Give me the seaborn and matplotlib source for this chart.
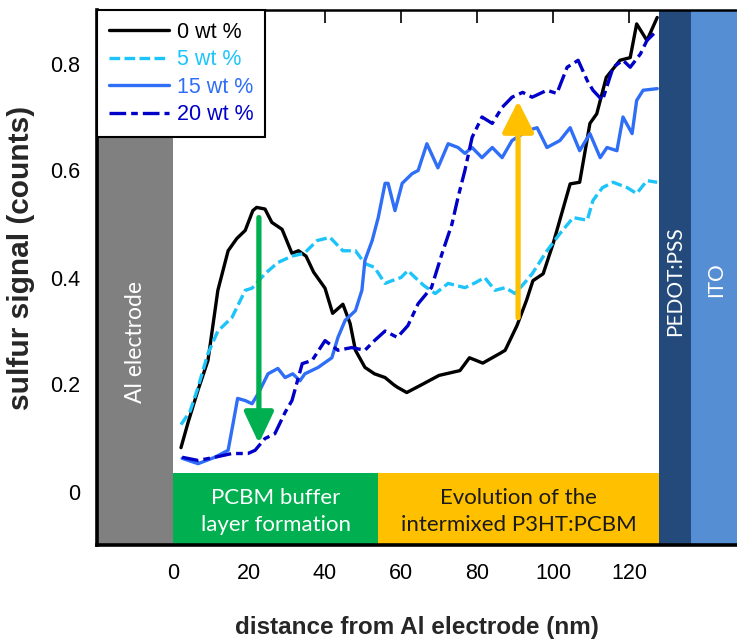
import matplotlib
matplotlib.use("Agg")
import matplotlib.pyplot as plt
import seaborn as sns
import pandas as pd
from matplotlib.patches import Rectangle

# ---------------- data ----------------
labels = ["0 wt %", "5 wt %", "15 wt %", "20 wt %"]

x0 = [2.1, 4, 6.6, 9.2, 11.8, 14.5, 16.8, 19, 21, 22, 24.2, 26, 28.7, 31.3, 33, 35, 37, 40, 42,
      44.7, 46.6, 48, 50.5, 53, 55.8, 58, 59, 61.5, 65, 70, 75.5, 78, 81.5, 86, 87.4, 90.5, 93,
      94.7, 97.4, 100, 104.5, 107, 109.7, 111.5, 114, 117.6, 120.3, 122, 124.7, 127.4]
y0 = [0.082, 0.13, 0.19, 0.245, 0.376, 0.45, 0.473, 0.488, 0.525, 0.531, 0.528, 0.503, 0.49,
      0.445, 0.45, 0.44, 0.41, 0.38, 0.333, 0.35, 0.314, 0.264, 0.232, 0.22, 0.213, 0.2, 0.195,
      0.185, 0.198, 0.217, 0.226, 0.25, 0.24, 0.258, 0.264, 0.31, 0.357, 0.394, 0.407, 0.463,
      0.575, 0.578, 0.688, 0.706, 0.774, 0.806, 0.811, 0.874, 0.843, 0.886]

x5 = [2.1, 4.5, 6.6, 9.2, 11.8, 15.5, 19, 20.8, 24.2, 27.6, 31.3, 34.5, 37.9, 41.3, 44.7, 48,
      50.5, 53, 55.8, 57.6, 60, 61.8, 63.7, 66, 69, 72.4, 76.8, 79.5, 82, 84.7, 87.4, 90, 92.5,
      94.5, 98.4, 101.8, 105.3, 109, 110.5, 113, 115.8, 119.5, 122, 124.7, 127.4]
y5 = [0.125, 0.15, 0.195, 0.258, 0.30, 0.325, 0.376, 0.38, 0.407, 0.428, 0.44, 0.445, 0.469,
      0.475, 0.45, 0.45, 0.426, 0.419, 0.389, 0.394, 0.40, 0.413, 0.40, 0.385, 0.37, 0.389,
      0.381, 0.39, 0.40, 0.376, 0.381, 0.37, 0.39, 0.407, 0.45, 0.482, 0.512, 0.507, 0.544,
      0.568, 0.578, 0.568, 0.557, 0.581, 0.578]

x15 = [2.4, 6.6, 11, 14.5, 15.8, 17, 19, 20.8, 22.4, 25, 27.6, 29.5, 31.5, 33.4, 34.7, 38.2,
       41.8, 43.4, 45.3, 48, 49.7, 50.5, 52.4, 54, 55.8, 56.6, 58.4, 60.3, 62.9, 64.5, 66.8,
       69.7, 72.4, 75, 76.8, 78.7, 81.3, 84, 86.6, 89.2, 93.4, 95.8, 98.4, 101.8, 104.5, 107,
       109.7, 112.4, 114.2, 116.8, 118.4, 120.8, 122, 123.7, 127.4]
y15 = [0.062, 0.052, 0.064, 0.077, 0.127, 0.174, 0.17, 0.164, 0.183, 0.22, 0.23, 0.213, 0.22,
       0.207, 0.22, 0.232, 0.25, 0.288, 0.32, 0.338, 0.376, 0.432, 0.469, 0.512, 0.576, 0.576,
       0.525, 0.576, 0.594, 0.60, 0.65, 0.605, 0.65, 0.643, 0.632, 0.643, 0.624, 0.643, 0.624,
       0.656, 0.675, 0.68, 0.643, 0.656, 0.68, 0.637, 0.669, 0.624, 0.643, 0.637, 0.70, 0.669,
       0.731, 0.75, 0.753]

x20 = [2.4, 6.6, 11, 15.5, 19.7, 21.6, 24.2, 26.8, 29.5, 31.3, 34, 36.6, 40, 43.4, 47, 50.5,
       53, 55.8, 59, 61.8, 64.5, 68, 70.8, 73.4, 75, 76.8, 78.7, 81.3, 84, 86.6, 89.2, 92,
       94.5, 98.4, 101, 103.7, 106.6, 109, 110.5, 113, 115.8, 118.4, 120.3, 123, 124.7, 127.4]
y20 = [0.064, 0.058, 0.064, 0.071, 0.071, 0.077, 0.099, 0.108, 0.148, 0.17, 0.239, 0.245,
       0.282, 0.264, 0.269, 0.264, 0.282, 0.30, 0.288, 0.31, 0.351, 0.381, 0.445, 0.50, 0.55,
       0.60, 0.662, 0.70, 0.688, 0.718, 0.737, 0.746, 0.737, 0.75, 0.744, 0.793, 0.806, 0.768,
       0.75, 0.731, 0.793, 0.806, 0.793, 0.818, 0.843, 0.862]

series_x = [x0, x5, x15, x20]
series_y = [y0, y5, y15, y20]

yticks = [0, 0.2, 0.4, 0.6, 0.8]
ytick_labels = ["0", "0.2", "0.4", "0.6", "0.8"]
xticks = [0, 20, 40, 60, 80, 100, 120]
xtick_labels = ["0", "20", "40", "60", "80", "100", "120"]

# region layout (nm / counts)
al_region = (-20, 0)
pcbm_region = (0, 54)
mix_region = (54, 128)
pedot_region = (128, 136.4)
ito_region = (136.4, 148.4)
box_top = 0.034
green_arrow = ((22.6, 0.512), (22.6, 0.09))
orange_arrow = ((90.8, 0.325), (90.8, 0.73))

# ---------------- style ----------------
sns.set_theme(style="white")
plt.rcParams["font.family"] = "sans-serif"
plt.rcParams["font.sans-serif"] = ["Liberation Sans", "Arial", "DejaVu Sans"]

colors = ["#000000", "#1CC4FA", "#2F6EF7", "#0000C8"]
dashes = [None, (3.2, 1.3), None, (5, 1.5, 2, 1.5)]

fig = plt.figure(figsize=(7.37, 6.43), dpi=100)
ax = fig.add_axes([97 / 737, 1 - 545 / 643, 1 - 97 / 737, (545 - 10) / 643])
ax.set_xlim(-20, 148.4)
ax.set_ylim(-0.1, 0.9)

# region rectangles
ax.add_patch(Rectangle((al_region[0], -0.1), al_region[1] - al_region[0], 0.765,
                       color="#808080", zorder=1, lw=0))
ax.add_patch(Rectangle((pcbm_region[0], -0.1), pcbm_region[1] - pcbm_region[0], box_top + 0.1,
                       color="#00B050", zorder=1, lw=0))
ax.add_patch(Rectangle((mix_region[0], -0.1), mix_region[1] - mix_region[0], box_top + 0.1,
                       color="#FFC000", zorder=1, lw=0))
ax.add_patch(Rectangle((pedot_region[0], -0.1), pedot_region[1] - pedot_region[0], 1.0,
                       color="#234A7B", zorder=1, lw=0))
ax.add_patch(Rectangle((ito_region[0], -0.1), ito_region[1] - ito_region[0], 1.0,
                       color="#568ED4", zorder=1, lw=0))

box_font = ["Lato", "DejaVu Sans"]
ax.text(-10, 0.28, "Al electrode", rotation=90, color="white", ha="center", va="center",
        fontsize=16.5, family=box_font, zorder=3)
ax.text(132.2, 0.394, "PEDOT:PSS", rotation=90, color="white", ha="center", va="center",
        fontsize=15, family=box_font, zorder=3)
ax.text(143, 0.396, "ITO", rotation=90, color="white", ha="center", va="center",
        fontsize=15, family=box_font, zorder=3)
ax.text(27, -0.037, "PCBM buffer\nlayer formation", color="white", ha="center", va="center",
        fontsize=16, family=box_font, linespacing=1.45, zorder=3)
ax.text(91, -0.037, "Evolution of the\nintermixed P3HT:PCBM", color="#1a1a1a", ha="center",
        va="center", fontsize=16, family=box_font, linespacing=1.45, zorder=3)

# curves
for xs, ys, lab, c, d in zip(series_x, series_y, labels, colors, dashes):
    df = pd.DataFrame({"x": xs, "y": ys})
    sns.lineplot(data=df, x="x", y="y", ax=ax, color=c, lw=2.4, estimator=None,
                 sort=False, label=lab, zorder=4, legend=False)
    ln = ax.lines[-1]
    if d is not None:
        ln.set_dashes(d)

# arrows
ax.annotate("", xy=green_arrow[1], xytext=green_arrow[0],
            arrowprops=dict(arrowstyle="-|>,head_width=0.45,head_length=0.95",
                            mutation_scale=20, lw=3.8, color="#00B050",
                            shrinkA=0, shrinkB=0), zorder=6)
ax.annotate("", xy=orange_arrow[1], xytext=orange_arrow[0],
            arrowprops=dict(arrowstyle="-|>,head_width=0.48,head_length=0.95",
                            mutation_scale=20, lw=3.8, color="#FFC000",
                            shrinkA=0, shrinkB=0), zorder=6)

# axes decoration
ax.set_yticks(yticks)
ax.set_yticklabels(ytick_labels)
ax.set_xticks(xticks)
ax.set_xticklabels(xtick_labels)
ax.tick_params(axis="y", length=0, pad=12, labelsize=15.5, colors="black")
ax.tick_params(axis="x", bottom=False, top=True, direction="in", length=9, width=1.2,
               pad=13, labelsize=15.5, colors="black")
for s in ["left", "bottom"]:
    ax.spines[s].set_linewidth(2.6)
    ax.spines[s].set_color("black")
ax.spines["top"].set_linewidth(1.8)
ax.spines["top"].set_color("black")
ax.spines["right"].set_visible(False)
for s in ax.spines.values():
    s.set_zorder(7)

ax.set_ylabel("sulfur signal (counts)", fontsize=21.5, fontweight="bold")
ax.yaxis.set_label_coords(-0.097, 0.537)
ax.set_xlabel("distance from Al electrode (nm)", fontsize=17.5, fontweight="bold", labelpad=23)

leg = ax.legend(handles=ax.lines[:4], labels=labels, loc="upper left",
                bbox_to_anchor=(0, 1), borderaxespad=0, fontsize=15.5, frameon=True,
                fancybox=False, edgecolor="black", framealpha=1, handlelength=2.8,
                handletextpad=0.35, labelspacing=0.3, borderpad=0.55)
leg.get_frame().set_linewidth(1.5)
leg.set_zorder(8)
for t, c in zip(leg.get_texts(), colors):
    t.set_color(c)

fig.savefig("out.png", dpi=100)
